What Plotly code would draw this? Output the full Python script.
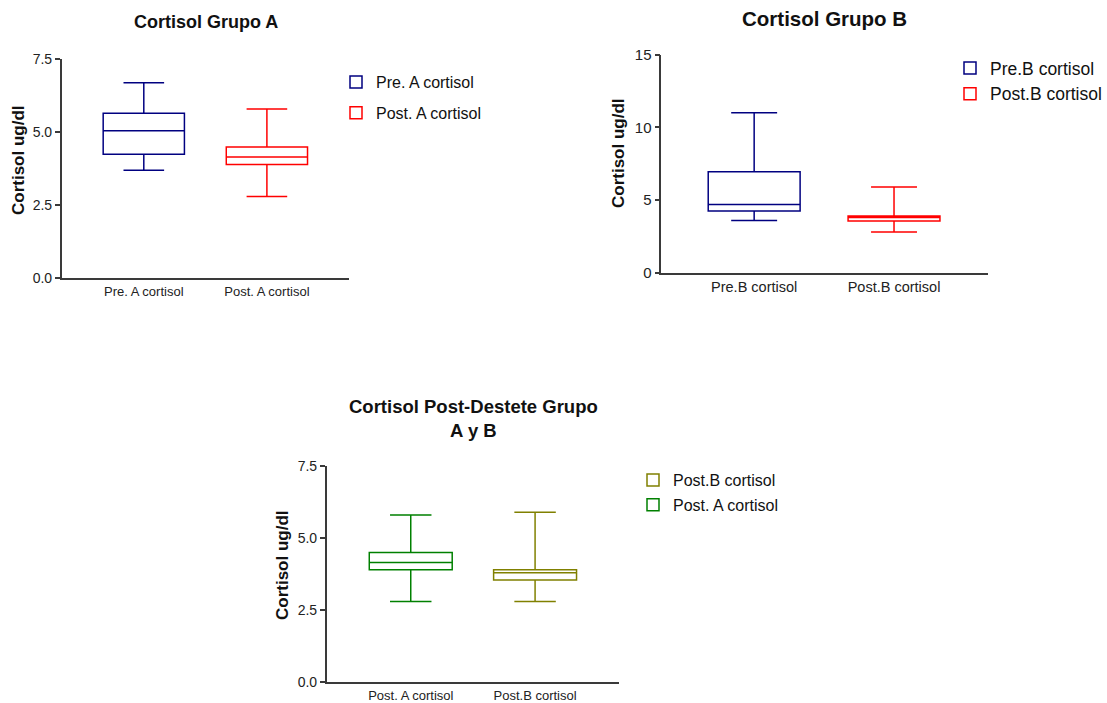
import plotly.graph_objects as go

# ---- data ----
groups = ["Pre. A cortisol", "Post. A cortisol", "Pre.B cortisol", "Post.B cortisol"]
lower = [3.7, 2.8, 3.6, 2.8]
q1 = [4.25, 3.9, 4.25, 3.55]
median = [5.05, 4.15, 4.7, 3.8]
q3 = [5.65, 4.5, 6.95, 3.9]
upper = [6.7, 5.8, 11.0, 5.9]

titles = ["Cortisol Grupo A", "Cortisol Grupo B", "Cortisol Post-Destete Grupo<br>A y B"]
y_title = "Cortisol ug/dl"

NAVY = "#000080"
RED = "#FF0000"
GREEN = "#008000"
OLIVE = "#808000"

W, H = 1107, 703
FONT = "Liberation Sans, Arial, sans-serif"


def fx(p):
    return p / W


def fy(p):
    return 1 - p / H


panels = [
    dict(n="", trace_idx=[0, 1], colors=[NAVY, RED], cats=[groups[0], groups[1]],
         xpx=(61.7, 349), ypx=(59.3, 278.3), yrange=[0, 7.5], dtick=2.5, fmt=".1f",
         xrange=[-0.667, 1.667], bw=0.66, legend="legend", tick_size=14, cat_size=13,
         leg=dict(x=336, y=65, size=16, gap=7),
         title=dict(x=205.5, y=22, size=18), ytitle=dict(x=18, y=160)),
    dict(n="2", trace_idx=[2, 3], colors=[NAVY, RED], cats=[groups[2], groups[3]],
         xpx=(661.3, 988), ypx=(54.7, 272.7), yrange=[0, 15], dtick=5, fmt="d",
         xrange=[-0.664, 1.672], bw=0.657, legend="legend2", tick_size=15, cat_size=14.5,
         leg=dict(x=950, y=50, size=17.5, gap=0),
         title=dict(x=824.5, y=19, size=20.5), ytitle=dict(x=619, y=153)),
    dict(n="3", trace_idx=[3, 1], colors=[OLIVE, GREEN], cats=[groups[1], groups[3]],
         xpx=(326.7, 619), ypx=(466, 682.3), yrange=[0, 7.5], dtick=2.5, fmt=".1f",
         xrange=[-0.676, 1.675], bw=0.667, legend="legend3", tick_size=14, cat_size=13,
         leg=dict(x=633, y=463, size=16, gap=1),
         title=dict(x=473, y=418, size=18.5), ytitle=dict(x=282, y=565)),
]

fig = go.Figure()
layout = dict(
    width=W, height=H, autosize=False,
    margin=dict(l=0, r=0, t=0, b=0, autoexpand=False),
    paper_bgcolor="white", plot_bgcolor="white",
    font=dict(family=FONT, color="#222222"),
    boxmode="overlay",
    annotations=[],
)

for p in panels:
    n = p["n"]
    xa = "x" + n
    ya = "y" + n
    for i, col in zip(p["trace_idx"], p["colors"]):
        fig.add_trace(go.Box(
            x=[groups[i]], q1=[q1[i]], median=[median[i]], q3=[q3[i]],
            lowerfence=[lower[i]], upperfence=[upper[i]],
            name=groups[i], xaxis=xa, yaxis=ya,
            line=dict(color=col, width=1.5), fillcolor="rgba(0,0,0,0)",
            width=p["bw"], whiskerwidth=0.5, boxpoints=False,
            legend=p["legend"], legendgroup=p["legend"] + groups[i],
            hoverinfo="y",
        ))
    layout["xaxis" + n] = dict(
        domain=[fx(p["xpx"][0]), fx(p["xpx"][1])], anchor=ya,
        type="category", categoryorder="array", categoryarray=p["cats"],
        range=p["xrange"], showline=True, linecolor="#3a3a3a", linewidth=1.5,
        ticks="", showgrid=False, zeroline=False, automargin=False,
        tickfont=dict(size=p["cat_size"], color="#222222", family=FONT),
    )
    layout["yaxis" + n] = dict(
        domain=[fy(p["ypx"][1]), fy(p["ypx"][0])], anchor=xa,
        range=p["yrange"], dtick=p["dtick"], tick0=0, tickformat=p["fmt"],
        showline=True, linecolor="#3a3a3a", linewidth=1.5,
        ticks="outside", ticklen=5, tickwidth=1.5, tickcolor="#3a3a3a",
        showgrid=False, zeroline=False, automargin=False,
        tickfont=dict(size=p["tick_size"], color="#222222", family=FONT),
    )
    lg = p["leg"]
    layout[p["legend"]] = dict(
        x=fx(lg["x"]), y=fy(lg["y"]), xanchor="left", yanchor="top",
        xref="paper", yref="paper", bgcolor="rgba(0,0,0,0)",
        font=dict(size=lg["size"], color="#111111", family=FONT),
        traceorder="grouped", tracegroupgap=lg["gap"],
    )
    t = p["title"]
    layout["annotations"].append(dict(
        text="<b>" + titles[["", "2", "3"].index(n)] + "</b>",
        x=fx(t["x"]), y=fy(t["y"]), xref="paper", yref="paper",
        xanchor="center", yanchor="middle", showarrow=False,
        font=dict(size=t["size"], color="#111111", family=FONT),
    ))
    yt = p["ytitle"]
    layout["annotations"].append(dict(
        text="<b>" + y_title + "</b>", textangle=-90,
        x=fx(yt["x"]), y=fy(yt["y"]), xref="paper", yref="paper",
        xanchor="center", yanchor="middle", showarrow=False,
        font=dict(size=17, color="#111111", family=FONT),
    ))

fig.update_layout(**layout)
fig.write_html(
    "out.html",
    config={"displayModeBar": False},
    post_script="document.body.style.margin='0';document.body.style.overflow='hidden';",
)
